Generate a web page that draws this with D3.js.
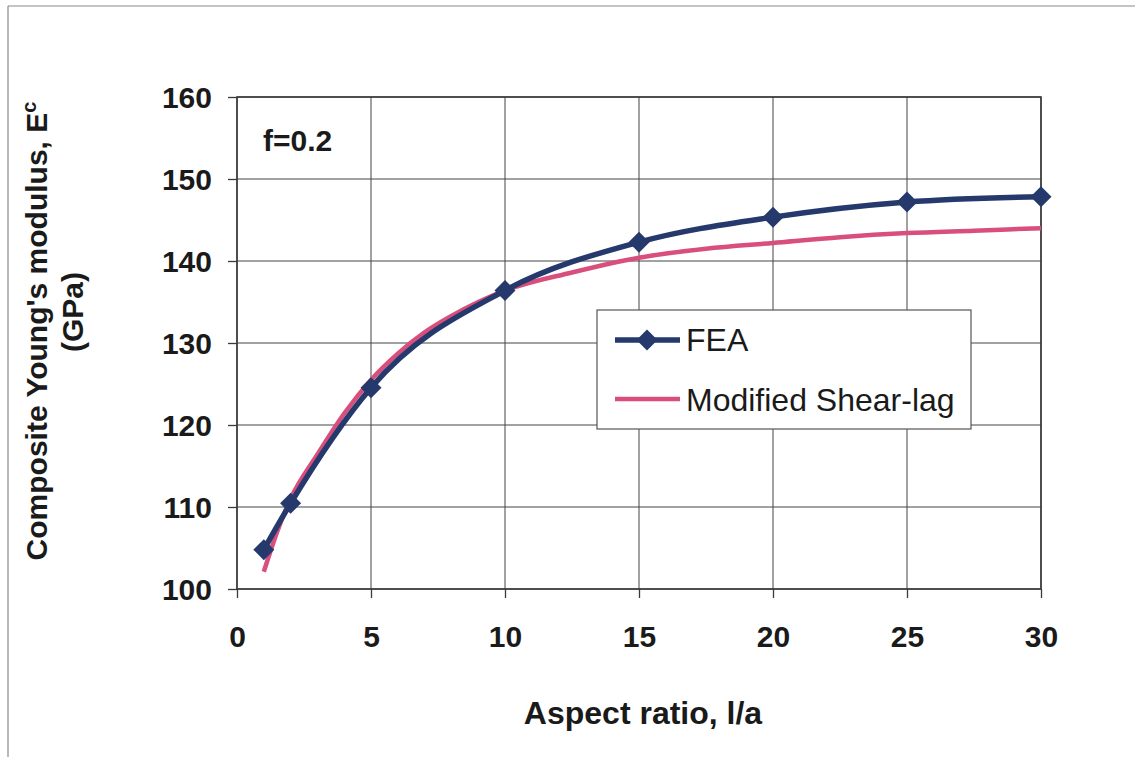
<!DOCTYPE html>
<html>
<head>
<meta charset="utf-8">
<script src="https://cdn.jsdelivr.net/npm/d3@7"></script>
<style>
  html, body { margin: 0; padding: 0; background: #fff; }
  svg { display: block; }
  text { font-family: "Liberation Sans", Arial, sans-serif; fill: #1a1a1a; }
</style>
</head>
<body>
<svg id="chart" width="1135" height="757"></svg>
<script>
// FEA results (aspect ratio l/a vs composite modulus, GPa)
const aspectFEA  = [1, 2, 5, 10, 15, 20, 25, 30];
const modulusFEA = [104.8, 110.45, 124.55, 136.4, 142.3, 145.35, 147.2, 147.85];

// Modified shear-lag prediction
const aspectSL  = [1, 1.5, 2, 3, 4, 5, 6, 7, 8, 9, 10, 12.5, 15, 17.5, 20, 22.5, 25, 27.5, 30];
const modulusSL = [102.1, 107.0, 111.0, 116.4, 121.4, 125.5, 128.7, 131.3, 133.3, 135.0, 136.4,
                   138.6, 140.4, 141.5, 142.2, 142.9, 143.4, 143.7, 144.0];

const xTicks = [0, 5, 10, 15, 20, 25, 30];
const yTicks = [100, 110, 120, 130, 140, 150, 160];

const seriesNames = ["FEA", "Modified Shear-lag"];
const colFEA = "#25396d";
const colSL = "#d94f7c";

const svg = d3.select("#chart");

// outer frame (top and left edges)
svg.append("line").attr("x1", 8).attr("y1", 6).attr("x2", 1135).attr("y2", 6)
  .attr("stroke", "#8a8a8a").attr("stroke-width", 1.2);
svg.append("line").attr("x1", 8).attr("y1", 6).attr("x2", 8).attr("y2", 757)
  .attr("stroke", "#8a8a8a").attr("stroke-width", 1.2);

const plot = { left: 237, right: 1041, top: 97, bottom: 589 };
const x = d3.scaleLinear().domain([0, 30]).range([plot.left, plot.right]);
const y = d3.scaleLinear().domain([100, 160]).range([plot.bottom, plot.top]);

// gridlines
const grid = svg.append("g").attr("stroke", "#444").attr("stroke-width", 1);
grid.selectAll("line.v").data(xTicks).join("line")
  .attr("x1", d => x(d)).attr("x2", d => x(d))
  .attr("y1", plot.top).attr("y2", plot.bottom);
grid.selectAll("line.h").data(yTicks).join("line")
  .attr("x1", plot.left).attr("x2", plot.right)
  .attr("y1", d => y(d)).attr("y2", d => y(d));

// plot border
svg.append("rect").attr("x", plot.left).attr("y", plot.top)
  .attr("width", plot.right - plot.left).attr("height", plot.bottom - plot.top)
  .attr("fill", "none").attr("stroke", "#3a3a3a").attr("stroke-width", 1.6);

// axes
const yAxis = d3.axisLeft(y).tickValues(yTicks).tickSize(9).tickPadding(16);
const xAxis = d3.axisBottom(x).tickValues(xTicks).tickSize(9).tickPadding(28);

const gy = svg.append("g").attr("transform", `translate(${plot.left},0)`).call(yAxis);
const gx = svg.append("g").attr("transform", `translate(0,${plot.bottom})`).call(xAxis);
[gx, gy].forEach(g => {
  g.select(".domain").remove();
  g.selectAll(".tick line").attr("stroke", "#3a3a3a").attr("stroke-width", 1.3);
  g.selectAll(".tick text")
    .attr("font-family", "'Liberation Sans', Arial, sans-serif")
    .attr("font-size", 30).attr("font-weight", "bold").attr("fill", "#1a1a1a");
});
gy.selectAll(".tick text").attr("dy", "0.36em");

// series lines
const lineSL = d3.line().x(d => x(d[0])).y(d => y(d[1])).curve(d3.curveMonotoneX);
const lineFEA = d3.line().x(d => x(d[0])).y(d => y(d[1])).curve(d3.curveMonotoneX);

const slData = aspectSL.map((a, i) => [a, modulusSL[i]]);
const feaData = aspectFEA.map((a, i) => [a, modulusFEA[i]]);

svg.append("path").datum(slData).attr("d", lineSL)
  .attr("fill", "none").attr("stroke", colSL).attr("stroke-width", 4.5)
  .attr("stroke-linecap", "butt");
svg.append("path").datum(feaData).attr("d", lineFEA)
  .attr("fill", "none").attr("stroke", colFEA).attr("stroke-width", 5.5);

function diamondPath(r) {
  return `M0,${-r}L${r},0L0,${r}L${-r},0Z`;
}
svg.append("g").selectAll("path").data(feaData).join("path")
  .attr("d", diamondPath(10.5))
  .attr("transform", d => `translate(${x(d[0])},${y(d[1])})`)
  .attr("fill", colFEA);

// annotation
svg.append("text").attr("x", 263).attr("y", 151)
  .attr("font-size", 30).attr("font-weight", "bold").text("f=0.2");

// legend
const lg = svg.append("g");
lg.append("rect").attr("x", 597).attr("y", 310).attr("width", 374).attr("height", 119)
  .attr("fill", "#fff").attr("stroke", "#555").attr("stroke-width", 1.2);
lg.append("line").attr("x1", 615).attr("x2", 680).attr("y1", 340).attr("y2", 340)
  .attr("stroke", colFEA).attr("stroke-width", 5.5);
lg.append("path").attr("d", diamondPath(10.5)).attr("transform", "translate(647,340)")
  .attr("fill", colFEA);
lg.append("line").attr("x1", 615).attr("x2", 680).attr("y1", 399).attr("y2", 399)
  .attr("stroke", colSL).attr("stroke-width", 4.5);
lg.append("text").attr("x", 686).attr("y", 351).attr("font-size", 32).text(seriesNames[0]);
lg.append("text").attr("x", 686).attr("y", 411).attr("font-size", 32).text(seriesNames[1]);

// axis titles
svg.append("text").attr("x", 643).attr("y", 724).attr("text-anchor", "middle")
  .attr("font-size", 32).attr("font-weight", "bold").text("Aspect ratio, l/a");

const yt = svg.append("text").attr("transform", "translate(47,331) rotate(-90)")
  .attr("text-anchor", "middle").attr("font-size", 30).attr("font-weight", "bold");
yt.append("tspan").text("Composite Young's modulus, E");
yt.append("tspan").attr("font-size", 20).attr("dy", -11).text("c");

svg.append("text").attr("transform", "translate(83,312) rotate(-90)")
  .attr("text-anchor", "middle").attr("font-size", 30).attr("font-weight", "bold").text("(GPa)");
</script>
</body>
</html>
